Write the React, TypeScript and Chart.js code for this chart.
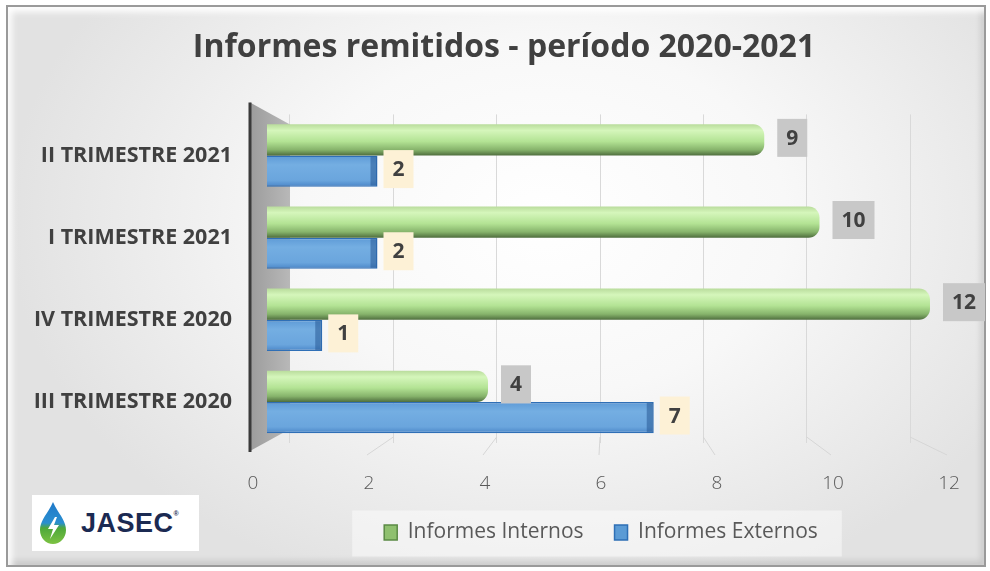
import React, { useEffect, useRef } from "react";
import { Chart, registerables } from "chart.js";

Chart.register(...registerables);

const categories = ["II TRIMESTRE 2021", "I TRIMESTRE 2021", "IV TRIMESTRE 2020", "III TRIMESTRE 2020"];
const internos = [9, 10, 12, 4];
const externos = [2, 2, 1, 7];
const seriesNames = ["Informes Internos", "Informes Externos"];
const titleText = "Informes remitidos - período 2020-2021";
const tickStep = 2;
const axisMax = 12;

const CAT_PCT = 0.76;
const FONT = '"Open Sans", "DejaVu Sans", sans-serif';
const PAD_LEFT = 59;

function barGradient(c: any, stops: [number, string][], fallback: string) {
  const chart = c.chart;
  const ca = chart.chartArea;
  if (!ca || c.type !== "data") return fallback;
  const yScale = chart.scales.y;
  const center = yScale.getPixelForValue(c.dataIndex);
  const thick = (ca.height / categories.length) * CAT_PCT / 2;
  const top = c.datasetIndex === 0 ? center - thick : center;
  const g = chart.ctx.createLinearGradient(0, top, 0, top + thick);
  stops.forEach(([o, col]) => g.addColorStop(o, col));
  return g;
}

// let the category labels use the space to the left of the axis box (no clipping)
const labelRoomPlugin = {
  id: "labelRoom",
  afterLayout(chart: any) {
    const y = chart.scales.y;
    if (y) y.left = 0;
  },
};

const wallPlugin = {
  id: "wall3d",
  beforeDatasetsDraw(chart: any) {
    const { ctx, chartArea: a } = chart;
    const back = chart.scales.x3.getPixelForValue(0);
    const x2 = chart.scales.x2;
    const x3 = chart.scales.x3;
    ctx.save();
    ctx.strokeStyle = "#d6d6d6";
    ctx.lineWidth = 1;
    for (let v = tickStep; v <= axisMax; v += tickStep) {
      ctx.beginPath();
      ctx.moveTo(x3.getPixelForValue(v), a.bottom - 6);
      ctx.lineTo(x2.getPixelForValue(v) - 2, a.bottom + 12);
      ctx.stroke();
    }
    const g = ctx.createLinearGradient(a.left - 3, 0, back, 0);
    g.addColorStop(0, "#9c9c9c");
    g.addColorStop(1, "#b8b8b8");
    ctx.fillStyle = g;
    ctx.beginPath();
    ctx.moveTo(a.left - 3, a.top - 12);
    ctx.lineTo(back, a.top + 10);
    ctx.lineTo(back, a.bottom - 14);
    ctx.lineTo(a.left - 3, a.bottom + 8);
    ctx.closePath();
    ctx.fill();
    ctx.strokeStyle = "#3a3a3a";
    ctx.lineWidth = 3;
    ctx.beginPath();
    ctx.moveTo(a.left - 3, a.top - 12);
    ctx.lineTo(a.left - 3, a.bottom + 9);
    ctx.stroke();
    ctx.restore();
  },
};

const valueLabelPlugin = {
  id: "valueLabels",
  afterDatasetsDraw(chart: any) {
    const ctx = chart.ctx;
    const blueMeta = chart.getDatasetMeta(1);
    blueMeta.data.forEach((el: any) => {
      const h = el.height;
      ctx.save();
      ctx.fillStyle = "rgba(40,90,150,0.55)";
      ctx.fillRect(el.x - 7, el.y - h / 2 + 1, 6, h - 2);
      ctx.restore();
    });
    chart.data.datasets.forEach((ds: any, di: number) => {
      const meta = chart.getDatasetMeta(di);
      meta.data.forEach((el: any, i: number) => {
        const text = String(ds.data[i]);
        ctx.save();
        ctx.font = `bold 21px ${FONT}`;
        const tw = ctx.measureText(text).width;
        const w = tw + 18;
        const h = 38;
        const x = el.x + (di === 0 ? 13 : 6);
        const y = el.y - 2 - h / 2;
        ctx.fillStyle = di === 0 ? "#c8c8c8" : "#fdf1d6";
        ctx.fillRect(x, y, w, h);
        ctx.fillStyle = "#404040";
        ctx.textAlign = "center";
        ctx.textBaseline = "middle";
        ctx.fillText(text, x + w / 2, y + h / 2 + 1);
        ctx.restore();
      });
    });
  },
};

const legendBgPlugin = {
  id: "legendBg",
  beforeDraw(chart: any) {
    const lg = chart.legend;
    if (!lg || !lg.legendHitBoxes || !lg.legendHitBoxes.length) return;
    const boxes = lg.legendHitBoxes;
    const left = Math.min(...boxes.map((b: any) => b.left)) - 32;
    const right = Math.max(...boxes.map((b: any) => b.left + b.width)) + 24;
    const top = boxes[0].top + boxes[0].height / 2 - 22;
    const ctx = chart.ctx;
    ctx.save();
    ctx.fillStyle = "rgba(255,255,255,0.45)";
    ctx.fillRect(left, top, right - left, 46);
    ctx.restore();
  },
};

function ChartCanvas() {
  const ref = useRef<HTMLCanvasElement>(null);
  useEffect(() => {
    if (!ref.current) return;
    const chart = new Chart(ref.current, {
      type: "bar",
      data: {
        labels: categories,
        datasets: [
          {
            label: seriesNames[0],
            data: internos,
            xAxisID: "x",
            backgroundColor: (c: any) =>
              barGradient(
                c,
                [
                  [0, "#b9dc9c"],
                  [0.2, "#d5f6bb"],
                  [0.55, "#b3e394"],
                  [0.82, "#86b36b"],
                  [1, "#4f6e3e"],
                ],
                "#9ccc7d"
              ),
            borderRadius: 11,
            borderSkipped: "start",
            barPercentage: 1,
            categoryPercentage: CAT_PCT,
          },
          {
            label: seriesNames[1],
            data: externos,
            xAxisID: "x",
            backgroundColor: (c: any) =>
              barGradient(
                c,
                [
                  [0, "#5d9ad6"],
                  [0.3, "#74aee2"],
                  [0.8, "#6aa5dd"],
                  [1, "#4a86c8"],
                ],
                "#5b9bd5"
              ),
            borderColor: "#2f6fb6",
            borderWidth: 1.5,
            borderSkipped: "start",
            barPercentage: 1,
            categoryPercentage: CAT_PCT,
          },
        ],
      },
      options: {
        indexAxis: "y",
        responsive: false,
        animation: false,
        layout: { padding: { left: PAD_LEFT, right: 41, top: 0, bottom: 18 } },
        scales: {
          y: {
            type: "category",
            position: "left",
            grid: { display: false, drawTicks: false },
            border: { display: false },
            ticks: {
              padding: 21,
              color: "#404040",
              font: { family: FONT, size: 21.5, weight: "bold" },
            },
            afterFit: (s: any) => {
              s.width = 253 - PAD_LEFT;
            },
          },
          x: {
            type: "linear",
            display: false,
            min: -0.2534,
            max: 12.344,
            ticks: { includeBounds: false },
          },
          x2: {
            type: "linear",
            position: "bottom",
            min: 0,
            max: axisMax,
            grid: { display: false, drawTicks: false },
            border: { display: false },
            ticks: {
              stepSize: tickStep,
              padding: 29,
              color: "#595959",
              font: { family: FONT, size: 19, weight: "300" },
            },
            afterFit: (s: any) => {
              s.height = 48;
            },
          },
          x3: {
            type: "linear",
            position: "bottom",
            min: -0.716,
            max: 12.754,
            grid: { display: true, color: "#d9d9d9", lineWidth: 1, drawTicks: false },
            border: { display: false },
            ticks: { display: false, stepSize: tickStep, includeBounds: false },
            afterFit: (s: any) => {
              s.height = 0;
            },
          },
        },
        plugins: {
          title: {
            display: true,
            text: titleText,
            color: "#404040",
            font: { family: FONT, size: 32, weight: "bold" },
            padding: { top: 29, bottom: 47 },
          },
          legend: {
            display: true,
            position: "bottom",
            fullSize: false,
            labels: {
              color: "#595959",
              font: { family: FONT, size: 21 },
              boxWidth: 13,
              boxHeight: 15,
              padding: 31,
              generateLabels: () => [
                {
                  text: seriesNames[0],
                  fillStyle: "#8fc06f",
                  strokeStyle: "#5b8a45",
                  lineWidth: 1.5,
                  fontColor: "#595959",
                  datasetIndex: 0,
                  hidden: false,
                },
                {
                  text: seriesNames[1],
                  fillStyle: "#5b9bd5",
                  strokeStyle: "#2e6fb5",
                  lineWidth: 1.5,
                  fontColor: "#595959",
                  datasetIndex: 1,
                  hidden: false,
                },
              ],
            },
          },
          tooltip: { enabled: false },
        },
      },
      plugins: [labelRoomPlugin, legendBgPlugin, wallPlugin, valueLabelPlugin],
    } as any);
    return () => chart.destroy();
  }, []);
  return (
    <canvas
      ref={ref}
      width={990}
      height={571}
      style={{ position: "absolute", left: 0, top: 0, width: 990, height: 571 }}
    />
  );
}

function Logo() {
  return (
    <div
      style={{
        position: "absolute",
        left: 32,
        top: 495,
        width: 167,
        height: 56,
        background: "#ffffff",
        display: "flex",
        alignItems: "center",
      }}
    >
      <svg width="34" height="46" viewBox="0 0 34 46" style={{ marginLeft: 4 }}>
        <defs>
          <linearGradient id="dropg" x1="0" y1="0" x2="0" y2="1">
            <stop offset="0" stopColor="#1f78c8" />
            <stop offset="0.5" stopColor="#2a8fd0" />
            <stop offset="0.62" stopColor="#4ea83a" />
            <stop offset="1" stopColor="#7cc242" />
          </linearGradient>
        </defs>
        <path d="M17 2 C13 12 4 20 4 30 C4 38 10 44 17 44 C24 44 30 38 30 30 C30 20 21 12 17 2 Z" fill="url(#dropg)" />
        <path d="M19 17 L12 29 L17 29 L14 39 L23 25 L18 25 L21 17 Z" fill="#ffffff" />
      </svg>
      <span
        style={{
          fontFamily: '"Liberation Sans", Arial, sans-serif',
          fontWeight: "bold",
          fontSize: 27,
          color: "#1b2a52",
          marginLeft: 11,
          letterSpacing: 0.5,
        }}
      >
        JASEC
        <sup style={{ fontSize: 7, verticalAlign: "top", position: "relative", top: 2 }}>®</sup>
      </span>
    </div>
  );
}

export default function App() {
  return (
    <div style={{ position: "fixed", left: 0, top: 0, width: 990, height: 571, background: "#ffffff", overflow: "hidden" }}>
      <div
        style={{
          position: "absolute",
          left: 6,
          top: 5,
          width: 976,
          height: 558,
          border: "2px solid #9a9a9a",
          background:
            "radial-gradient(ellipse 55% 70% at 55% 38%, #ffffff 0%, #f8f8f8 45%, #e2e2e2 100%)",
          boxShadow: "inset 4px 5px 6px rgba(255,255,255,0.95), inset -3px -4px 6px rgba(0,0,0,0.12)",
        }}
      />
      <Logo />
      <ChartCanvas />
    </div>
  );
}
